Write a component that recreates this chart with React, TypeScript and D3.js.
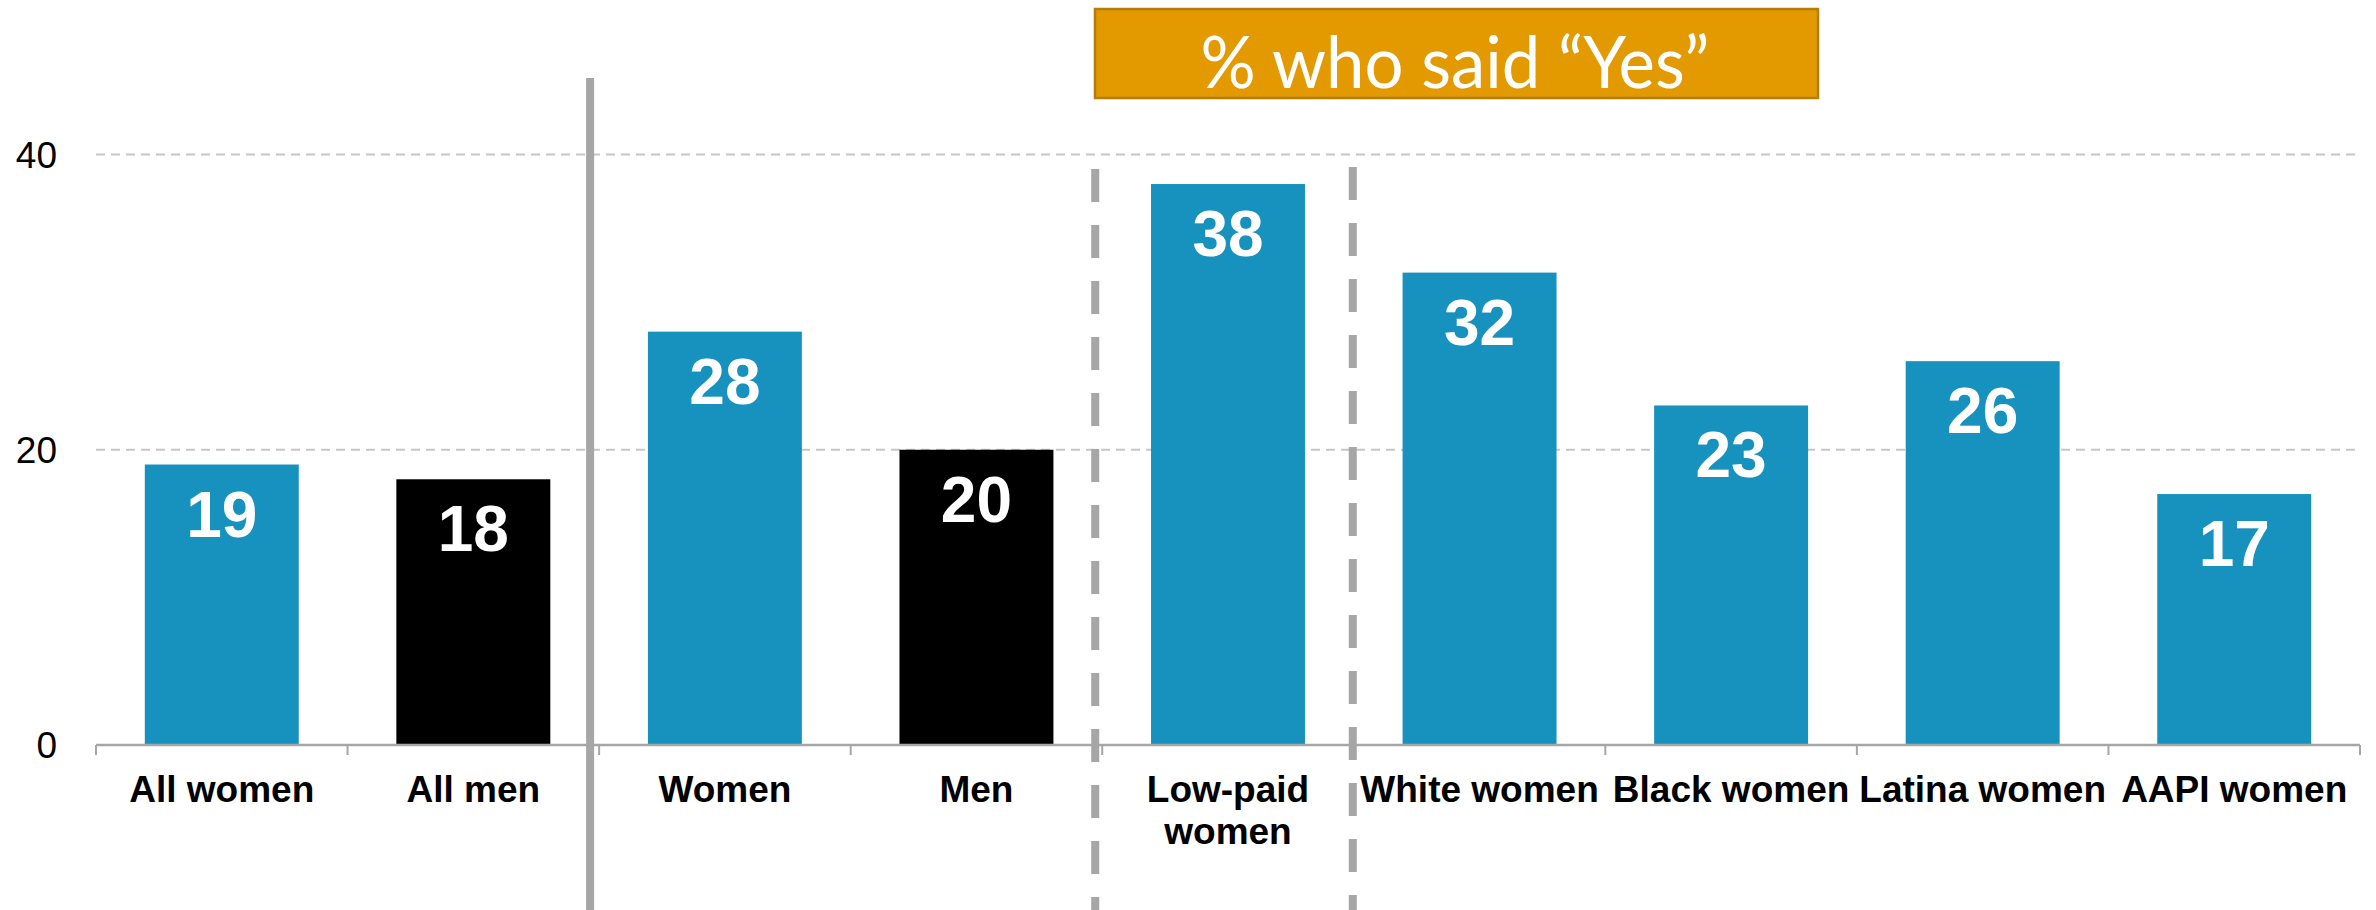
import React from "react";
import * as d3 from "d3";

const categories = ["All women", "All men", "Women", "Men", "Low-paid women", "White women", "Black women", "Latina women", "AAPI women"];
const labelLines = [["All women"], ["All men"], ["Women"], ["Men"], ["Low-paid", "women"], ["White women"], ["Black women"], ["Latina women"], ["AAPI women"]];
const values = [19, 18, 28, 20, 38, 32, 23, 26, 17];
const barGroups = ["women", "men", "women", "men", "women", "women", "women", "women", "women"];
const yTicks = [0, 20, 40];
const title = "% who said \u201cYes\u201d";

const W = 2376;
const H = 910;
const BLUE = "#1792BF";
const BLACK = "#000000";
const GRAY = "#A6A6A6";

export default function App() {
  const x = d3.scaleBand<string>().domain(categories).range([96, 2360]).paddingInner(0.388).paddingOuter(0.194);
  const step = x.step();
  const x0 = 96;
  const boundary = (k: number) => x0 + k * step;
  const y = d3.scaleLinear().domain([0, 40]).range([745, 154.5]);

  return (
    <div style={{ position: "absolute", left: 0, top: 0, width: W, height: H, background: "#fff" }}>
      <svg width={W} height={H} style={{ display: "block" }}>
        {/* gridlines */}
        {yTicks.filter((t) => t > 0).map((t) => (
          <line key={t} x1={96} x2={2360} y1={y(t)} y2={y(t)} stroke="#C6C6C6" strokeWidth={2} strokeDasharray="9 6" />
        ))}
        {/* y tick labels */}
        {yTicks.map((t) => (
          <text key={t} x={57} y={y(t)} dy="0.36em" textAnchor="end" fontFamily="'Liberation Sans', Arial, sans-serif" fontSize={37} fill="#000">
            {t}
          </text>
        ))}
        {/* bars */}
        {categories.map((c, i) => (
          <rect key={c} x={x(c)} y={y(values[i])} width={x.bandwidth()} height={y(0) - y(values[i])} fill={barGroups[i] === "men" ? BLACK : BLUE} />
        ))}
        {/* value labels */}
        {categories.map((c, i) => (
          <text key={c} x={(x(c) as number) + x.bandwidth() / 2} y={y(values[i]) + 72} textAnchor="middle" fontFamily="'Liberation Sans', Arial, sans-serif" fontWeight="bold" fontSize={64} fill="#fff">
            {values[i]}
          </text>
        ))}
        {/* axis */}
        <line x1={96} x2={2360} y1={y(0)} y2={y(0)} stroke={GRAY} strokeWidth={2.5} />
        {d3.range(categories.length + 1).map((k) => (
          <line key={k} x1={boundary(k)} x2={boundary(k)} y1={y(0)} y2={y(0) + 10} stroke={GRAY} strokeWidth={2} />
        ))}
        {/* category labels */}
        {categories.map((c, i) => (
          <text key={c} textAnchor="middle" fontFamily="'Liberation Sans', Arial, sans-serif" fontWeight="bold" fontSize={37} fill="#000">
            {labelLines[i].map((ln, j) => (
              <tspan key={j} x={(x(c) as number) + x.bandwidth() / 2} y={y(0) + 57 + j * 42}>
                {ln}
              </tspan>
            ))}
          </text>
        ))}
        {/* dividers */}
        <line x1={boundary(2) - 9} x2={boundary(2) - 9} y1={78} y2={H} stroke={GRAY} strokeWidth={8} />
        <line x1={boundary(4) - 7} x2={boundary(4) - 7} y1={169} y2={H} stroke={GRAY} strokeWidth={8} strokeDasharray="33 23" />
        <line x1={boundary(5) - 1} x2={boundary(5) - 1} y1={167} y2={H} stroke={GRAY} strokeWidth={8} strokeDasharray="33 23" />
        {/* title box */}
        <rect x={1095} y={9} width={723} height={89} fill="#E39A00" stroke="#B57C0A" strokeWidth={2.5} />
        <text x={1455} y={88} textAnchor="middle" fontFamily="Lato, 'Open Sans', sans-serif" fontSize={71} fill="#fff" textLength={509} lengthAdjust="spacingAndGlyphs">
          {title}
        </text>
      </svg>
    </div>
  );
}
